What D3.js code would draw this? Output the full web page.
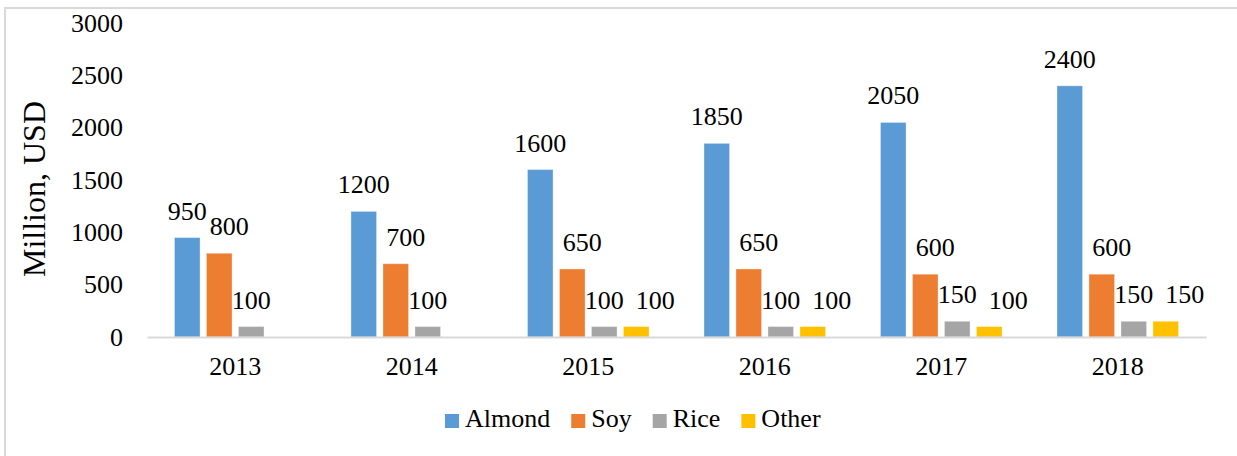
<!DOCTYPE html>
<html lang="en">
<head>
<meta charset="UTF-8">
<title>Plant milk sales</title>
<script src="https://cdn.jsdelivr.net/npm/d3@7"></script>
<style>
	body { margin: 0; background: #fff; }
	text { font-family: "Liberation Serif", "Times New Roman", serif; fill: #000; }
</style>
</head>
<body>
<script>

	var years = ["2013", "2014", "2015", "2016", "2017", "2018"];
	var seriesNames = ["Almond", "Soy", "Rice", "Other"];
	var almond = [950, 1200, 1600, 1850, 2050, 2400];
	var soy = [800, 700, 650, 650, 600, 600];
	var rice = [100, 100, 100, 100, 150, 150];
	var other = [null, null, 100, 100, 100, 150];
	var yTicks = [0, 500, 1000, 1500, 2000, 2500, 3000];

	var colors = ["#5B9BD5", "#ED7D31", "#A5A5A5", "#FFC000"];
	var labelShift = [0, 10, 0, 19]; // excel nudged some labels to the right

	var allSeries = [almond, soy, rice, other];

	var width = 1237, height = 456;
	var plotLeft = 147, plotRight = 1206, plotTop = 23, plotBottom = 337;

	var svg = d3.select("body").append("svg").attr("width", width).attr("height", height);

	// chart frame, only top and left edges show in the crop
	svg.append("rect").attr("x", 5).attr("y", 8).attr("width", width + 20).attr("height", height + 20)
		.attr("fill", "none").attr("stroke", "#D9D9D9").attr("stroke-width", 2);

	var x0 = d3.scaleBand().domain(years).range([plotLeft, plotRight]).paddingInner(0.275).paddingOuter(0.1375);
	var x1 = d3.scaleBand().domain(seriesNames).range([0, x0.bandwidth()]).paddingInner(0.2).paddingOuter(0.1);
	var y = d3.scaleLinear().domain([0, 3000]).range([plotBottom, plotTop]);

	// y tick labels, no axis line
	svg.append("g").selectAll("text").data(yTicks).enter().append("text")
		.attr("x", 123).attr("y", d => y(d))
		.attr("text-anchor", "end").attr("dominant-baseline", "central")
		.style("font-size", "26px")
		.text(d => d);

	svg.append("text")
		.attr("transform", "translate(" + 45 + "," + 189 + ") rotate(-90)")
		.attr("text-anchor", "middle")
		.style("font-size", "32px")
		.text("Million, USD");

	var rows = [];
	years.forEach((yr, i) => {
		seriesNames.forEach((s, k) => {
			if (allSeries[k][i] != null) rows.push({ year: yr, series: s, k: k, value: allSeries[k][i] });
		});
	});

	svg.append("g").selectAll("rect").data(rows).enter().append("rect")
		.attr("x", d => x0(d.year) + x1(d.series))
		.attr("y", d => y(d.value))
		.attr("width", x1.bandwidth())
		.attr("height", d => y(0) - y(d.value))
		.attr("fill", d => colors[d.k])
		.attr("stroke", "#fff").attr("stroke-opacity", 0.35).attr("stroke-width", 1);

	svg.append("g").selectAll("text").data(rows).enter().append("text")
		.attr("x", d => x0(d.year) + x1(d.series) + x1.bandwidth() / 2 + labelShift[d.k])
		.attr("y", d => y(d.value) - 18)
		.attr("text-anchor", "middle")
		.style("font-size", "26px")
		.text(d => d.value);

	// category axis
	var xAxis = svg.append("g").attr("transform", "translate(0," + plotBottom + ")")
		.call(d3.axisBottom(x0).tickSize(0).tickPadding(20));
	xAxis.select(".domain").attr("stroke", "#D9D9D9").attr("stroke-width", 2);
	xAxis.selectAll("text").style("font-size", "26px").attr("font-family", null);

	// legend
	var legend = svg.append("g").attr("transform", "translate(445,0)");
	var lx = 0;
	seriesNames.forEach((s, k) => {
		legend.append("rect").attr("x", lx).attr("y", 414).attr("width", 14).attr("height", 14).attr("fill", colors[k]);
		var t = legend.append("text").attr("x", lx + 20).attr("y", 427).style("font-size", "26px").text(s);
		lx += 20 + t.node().getComputedTextLength() + 21;
	});

</script>
</body>
</html>
